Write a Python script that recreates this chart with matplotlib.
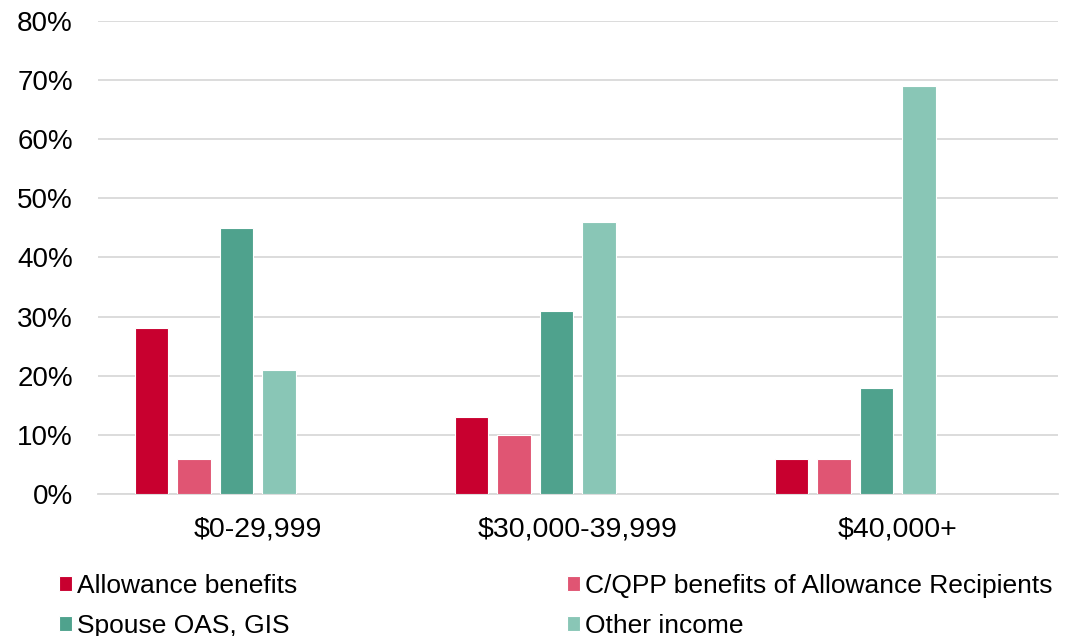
import matplotlib.pyplot as plt
import numpy as np

plt.rcParams['font.family'] = ['Liberation Sans', 'DejaVu Sans']

income_groups = ['$0-29,999', '$30,000-39,999', '$40,000+']
series_names = ['Allowance benefits', 'C/QPP benefits of Allowance Recipients',
                'Spouse OAS, GIS', 'Other income']
allowance = [28, 13, 6]
cqpp = [6, 10, 6]
spouse_oas_gis = [45, 31, 18]
other_income = [21, 46, 69]
colors = ['#C8002F', '#E05573', '#4FA28D', '#89C6B6']

values = [allowance, cqpp, spouse_oas_gis, other_income]

fig = plt.figure(figsize=(10.79, 6.36), dpi=100)
ax = fig.add_axes([0.0908, 0.2233, 0.8897, 0.7437])

x = np.arange(len(income_groups))
step = 0.1333
width = 0.105
bars = []
for i, (vals, col) in enumerate(zip(values, colors)):
    # six slots per group, the last two are left empty
    b = ax.bar(x + (i - 2.5) * step, vals, width, color=col,
               edgecolor='white', linewidth=0.8, label=series_names[i], zorder=3)
    bars.append(b)

ax.set_xlim(-0.5, 2.5)
ax.set_ylim(0, 80)
ax.set_yticks(np.arange(0, 81, 10))
ax.set_yticklabels([f'{v}%' for v in range(0, 81, 10)], fontsize=20)
ax.set_xticks(x)
ax.set_xticklabels(income_groups, fontsize=20.5)
ax.tick_params(axis='both', length=0)
ax.tick_params(axis='y', pad=18)
ax.tick_params(axis='x', pad=16)
ax.grid(axis='y', color='#D9D9D9', linewidth=1.3, zorder=0)
for s in ['top', 'right', 'left']:
    ax.spines[s].set_visible(False)
ax.spines['bottom'].set_color('#D9D9D9')
ax.spines['bottom'].set_linewidth(1.3)

# legend: row 1 = Allowance, C/QPP; row 2 = Spouse, Other
order = [0, 2, 1, 3]
fig.legend([bars[i] for i in order], [series_names[i] for i in order],
           loc='upper left', bbox_to_anchor=(0.0545, 0.098), ncol=2,
           frameon=False, fontsize=19, handlelength=0.5, handleheight=0.5,
           handletextpad=0.2, columnspacing=10.2, labelspacing=0.62,
           borderaxespad=0, borderpad=0)

fig.savefig('out.png', dpi=100)
